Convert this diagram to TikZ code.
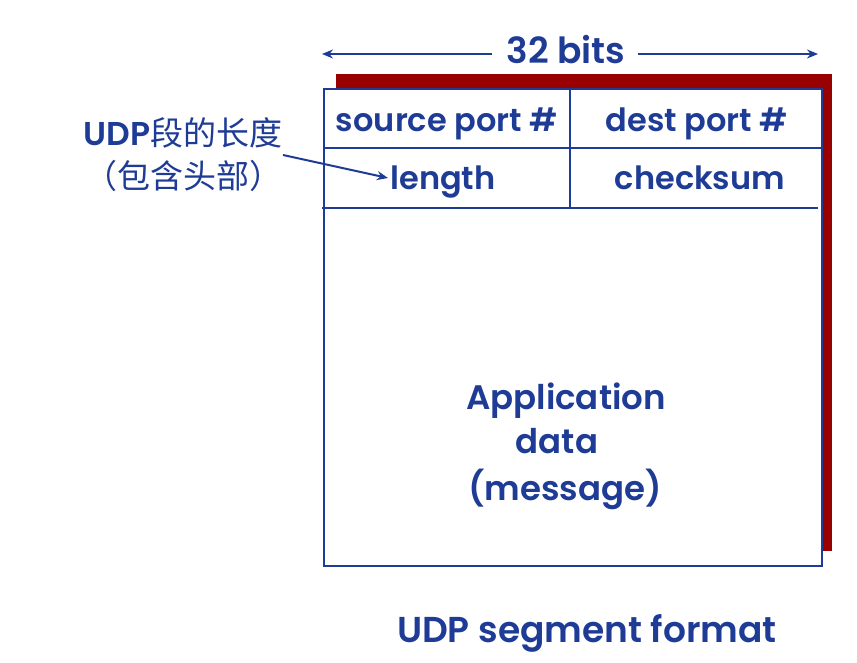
\documentclass[tikz,border=0pt]{standalone}
\usepackage{fontspec}
\setmainfont{Poppins}[BoldFont={Poppins SemiBold}]
\newfontfamily\cjk{Noto Sans CJK SC}
\usetikzlibrary{arrows.meta}
\definecolor{udpblue}{HTML}{1E3C96}
\definecolor{shadowred}{HTML}{990000}
\tikzset{
  lbl/.style={text=udpblue, font=\fontsize{32}{36}\selectfont\bfseries, inner sep=0pt, anchor=base},
  big/.style={text=udpblue, font=\fontsize{34}{38}\selectfont\bfseries, inner sep=0pt, anchor=base},
  captext/.style={text=udpblue, font=\fontsize{36}{40}\selectfont\bfseries, inner sep=0pt, anchor=base},
  cn/.style={text=udpblue, font=\fontsize{33}{38}\selectfont, inner sep=0pt, anchor=base},
  edge/.style={draw=udpblue, line width=2.2pt},
  conn/.style={draw=udpblue, line width=2pt, -{Stealth[length=11pt,width=9pt]}}
}
\begin{document}
\begin{tikzpicture}[x=1pt,y=-1pt]
\useasboundingbox (0,0) rectangle (857,663);
% shadow
\fill[shadowred] (336,74) rectangle (832,551);
% main box
\fill[white] (324,89) rectangle (822,566);
\draw[edge] (324,89) rectangle (822,566);
\draw[edge] (324,148) -- (822,148);
\draw[edge] (322,208) -- (818,208);
\draw[edge] (570,89) -- (570,208);
% bits label
\node[captext] (bits) at (566,64) {32 bits};
\coordinate (bl) at (492,54);
\coordinate (br) at (638,54);
\coordinate (bL) at (322,54);
\coordinate (bR) at (818,54);
\draw[conn] (bl) -- (bL);
\draw[conn] (br) -- (bR);
% cells
\node[lbl] (src) at (447,132) {source port \#};
\node[lbl] (dst) at (697,132) {dest port \#};
\node[lbl] (len) at (443,190) {length};
\node[lbl] (chk) at (700,190) {checksum};
% data
\node[big] (app) at (566,409) {Application};
\node[big] (dat) at (557,453) {data};
\node[big] (msg) at (565,500) {(message)};
% caption
\node[captext] (capt) at (587,642) {UDP segment format};
% annotation
\node[cn] (ann1) at (183,146) {\textbf{UDP}{\cjk 段的长度}};
\node[cn] (ann2) at (183,189) {\cjk （包含头部）};
\coordinate (a0) at (283,155);
\coordinate (a1) at (388,178);
\draw[conn] (a0) -- (a1);
\end{tikzpicture}
\end{document}
